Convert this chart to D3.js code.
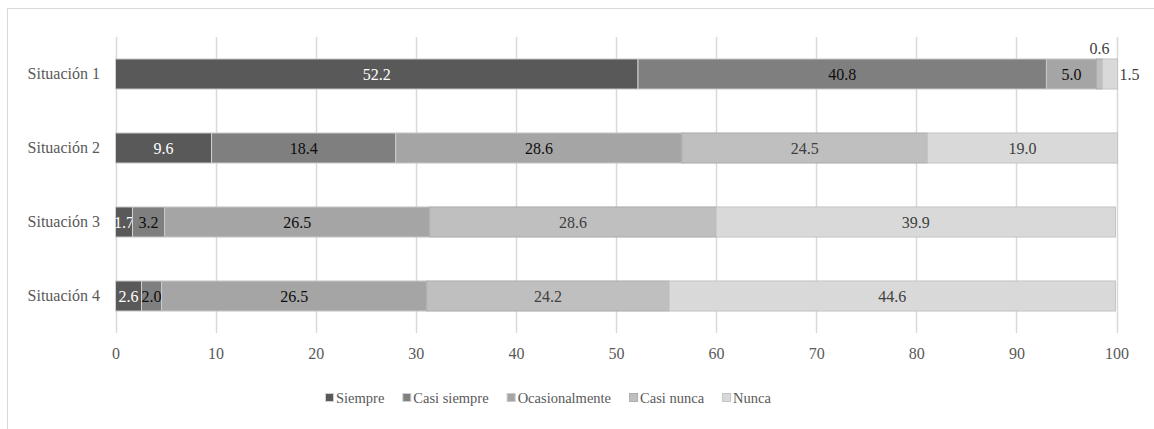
<!DOCTYPE html>
<meta charset="utf-8">
<title>Situaciones</title>
<style>
*{ margin: 0; padding: 0; }
body{ background: #fff; font-family: "Liberation Serif", serif; }
svg{ display: block; }
.tick text{ fill: #595959; }
</style>
<body>
<script src="https://cdn.jsdelivr.net/npm/d3@7"></script>
<div id="chart"></div>
<script>

var width = 1154,
    height = 429;

// data
var situaciones = ["Situación 1", "Situación 2", "Situación 3", "Situación 4"];
var series = ["Siempre", "Casi siempre", "Ocasionalmente", "Casi nunca", "Nunca"];
var siempre       = [52.2, 9.6, 1.7, 2.6];
var casiSiempre   = [40.8, 18.4, 3.2, 2.0];
var ocasionalmente= [5.0, 28.6, 26.5, 26.5];
var casiNunca     = [0.6, 24.5, 28.6, 24.2];
var nunca         = [1.5, 19.0, 39.9, 44.6];
var xTicks = [0, 10, 20, 30, 40, 50, 60, 70, 80, 90, 100];

var values = [siempre, casiSiempre, ocasionalmente, casiNunca, nunca];

var fills   = ['#595959', '#7f7f7f', '#a5a5a5', '#bfbfbf', '#d9d9d9'];
var strokes = ['#d0d0d0', '#d0d0d0', '#c8c8c8', '#adadad', '#c4c4c4'];
var labelColors = ['#ffffff', '#0d0d0d', '#0d0d0d', '#404040', '#404040'];

// rows for d3.stack
var rows = situaciones.map(function(s, i){
  var r = {sit: s};
  series.forEach(function(k, j){ r[k] = values[j][i]; });
  return r;
});
var stacked = d3.stack().keys(series)(rows);

var svg = d3.select("#chart").append("svg")
    .attr("width", width)
    .attr("height", height);

// chart frame (cropped on right and bottom)
svg.append("path")
  .attr("d", "M7.5," + height + "V8.5H" + width)
  .attr("fill", "none")
  .attr("stroke", "#d9d9d9");

var x = d3.scaleLinear().domain([0, 100]).range([115.5, 1116.5]);
var y = d3.scaleBand().domain(situaciones).range([37, 333])
  .paddingInner(0.58).paddingOuter(0.29);

// gridlines
svg.append("g")
  .selectAll("line")
  .data(xTicks)
  .enter().append("line")
  .attr("x1", function(d){ return Math.round(x(d)) + 0.5; })
  .attr("x2", function(d){ return Math.round(x(d)) + 0.5; })
  .attr("y1", 37)
  .attr("y2", 333)
  .attr("stroke", "#d9d9d9")
  .attr("stroke-width", 1.5);

// x axis labels
var xAxis = svg.append("g")
  .attr("transform", "translate(0,333)")
  .call(d3.axisBottom(x).tickValues(xTicks).tickSize(0).tickPadding(15).tickFormat(d3.format("d")));
xAxis.select(".domain").remove();
xAxis.selectAll("text").attr("font-size", 16).attr("font-family", "Liberation Serif, serif");

// y axis labels
var yAxis = svg.append("g")
  .attr("transform", "translate(100,0)")
  .call(d3.axisLeft(y).tickSize(0).tickPadding(0));
yAxis.select(".domain").remove();
yAxis.selectAll("text").attr("font-size", 16).attr("font-family", "Liberation Serif, serif");

// bars
var layers = svg.selectAll(".layer")
  .data(stacked)
  .enter().append("g")
  .attr("class", "layer");

layers.selectAll("rect")
  .data(function(d){ return d.map(function(p){ return {key: d.key, idx: d.index, p: p}; }); })
  .enter().append("rect")
  .attr("x", function(d){ return x(d.p[0]); })
  .attr("y", function(d){ return y(d.p.data.sit) + 0.5; })
  .attr("width", function(d){ return x(d.p[1]) - x(d.p[0]); })
  .attr("height", y.bandwidth() - 1)
  .attr("fill", function(d){ return fills[d.idx]; })
  .attr("stroke", function(d){ return strokes[d.idx]; })
  .attr("stroke-width", 1);

// data labels
layers.selectAll("text")
  .data(function(d){ return d.map(function(p){ return {key: d.key, idx: d.index, p: p}; }); })
  .enter().append("text")
  .attr("font-size", 16)
  .attr("dy", "0.35em")
  .attr("fill", function(d){ return labelColors[d.idx]; })
  .attr("text-anchor", function(d){
    var v = d.p[1] - d.p[0];
    if (v < 1) return "end";
    if (v < 2 && d.idx == series.length - 1) return "start";
    return "middle";
  })
  .attr("x", function(d){
    var v = d.p[1] - d.p[0];
    if (v < 1) return x(d.p[1]) + 7;       // tiny slice: label above
    if (v < 2 && d.idx == series.length - 1) return x(d.p[1]) + 2; // outside end
    return (x(d.p[0]) + x(d.p[1])) / 2;
  })
  .attr("y", function(d){
    var v = d.p[1] - d.p[0];
    var c = y(d.p.data.sit) + y.bandwidth() / 2;
    return v < 1 ? c - 26 : c;
  })
  .text(function(d){ return d3.format(".1f")(d.p[1] - d.p[0]); });

// legend
var legend = svg.append("g").attr("transform", "translate(325,398)");
var lx = 0;
series.forEach(function(k, i){
  var g = legend.append("g").attr("transform", "translate(" + lx + ",0)");
  g.append("rect")
    .attr("x", 0.5).attr("y", -4.5)
    .attr("width", 8).attr("height", 8)
    .attr("fill", fills[i])
    .attr("stroke", strokes[i]);
  var t = g.append("text")
    .attr("x", 11)
    .attr("dy", "0.35em")
    .attr("font-size", 14.5)
    .attr("fill", "#595959")
    .text(k);
  lx += 11 + t.node().getComputedTextLength() + 18;
});

</script>
</body>
